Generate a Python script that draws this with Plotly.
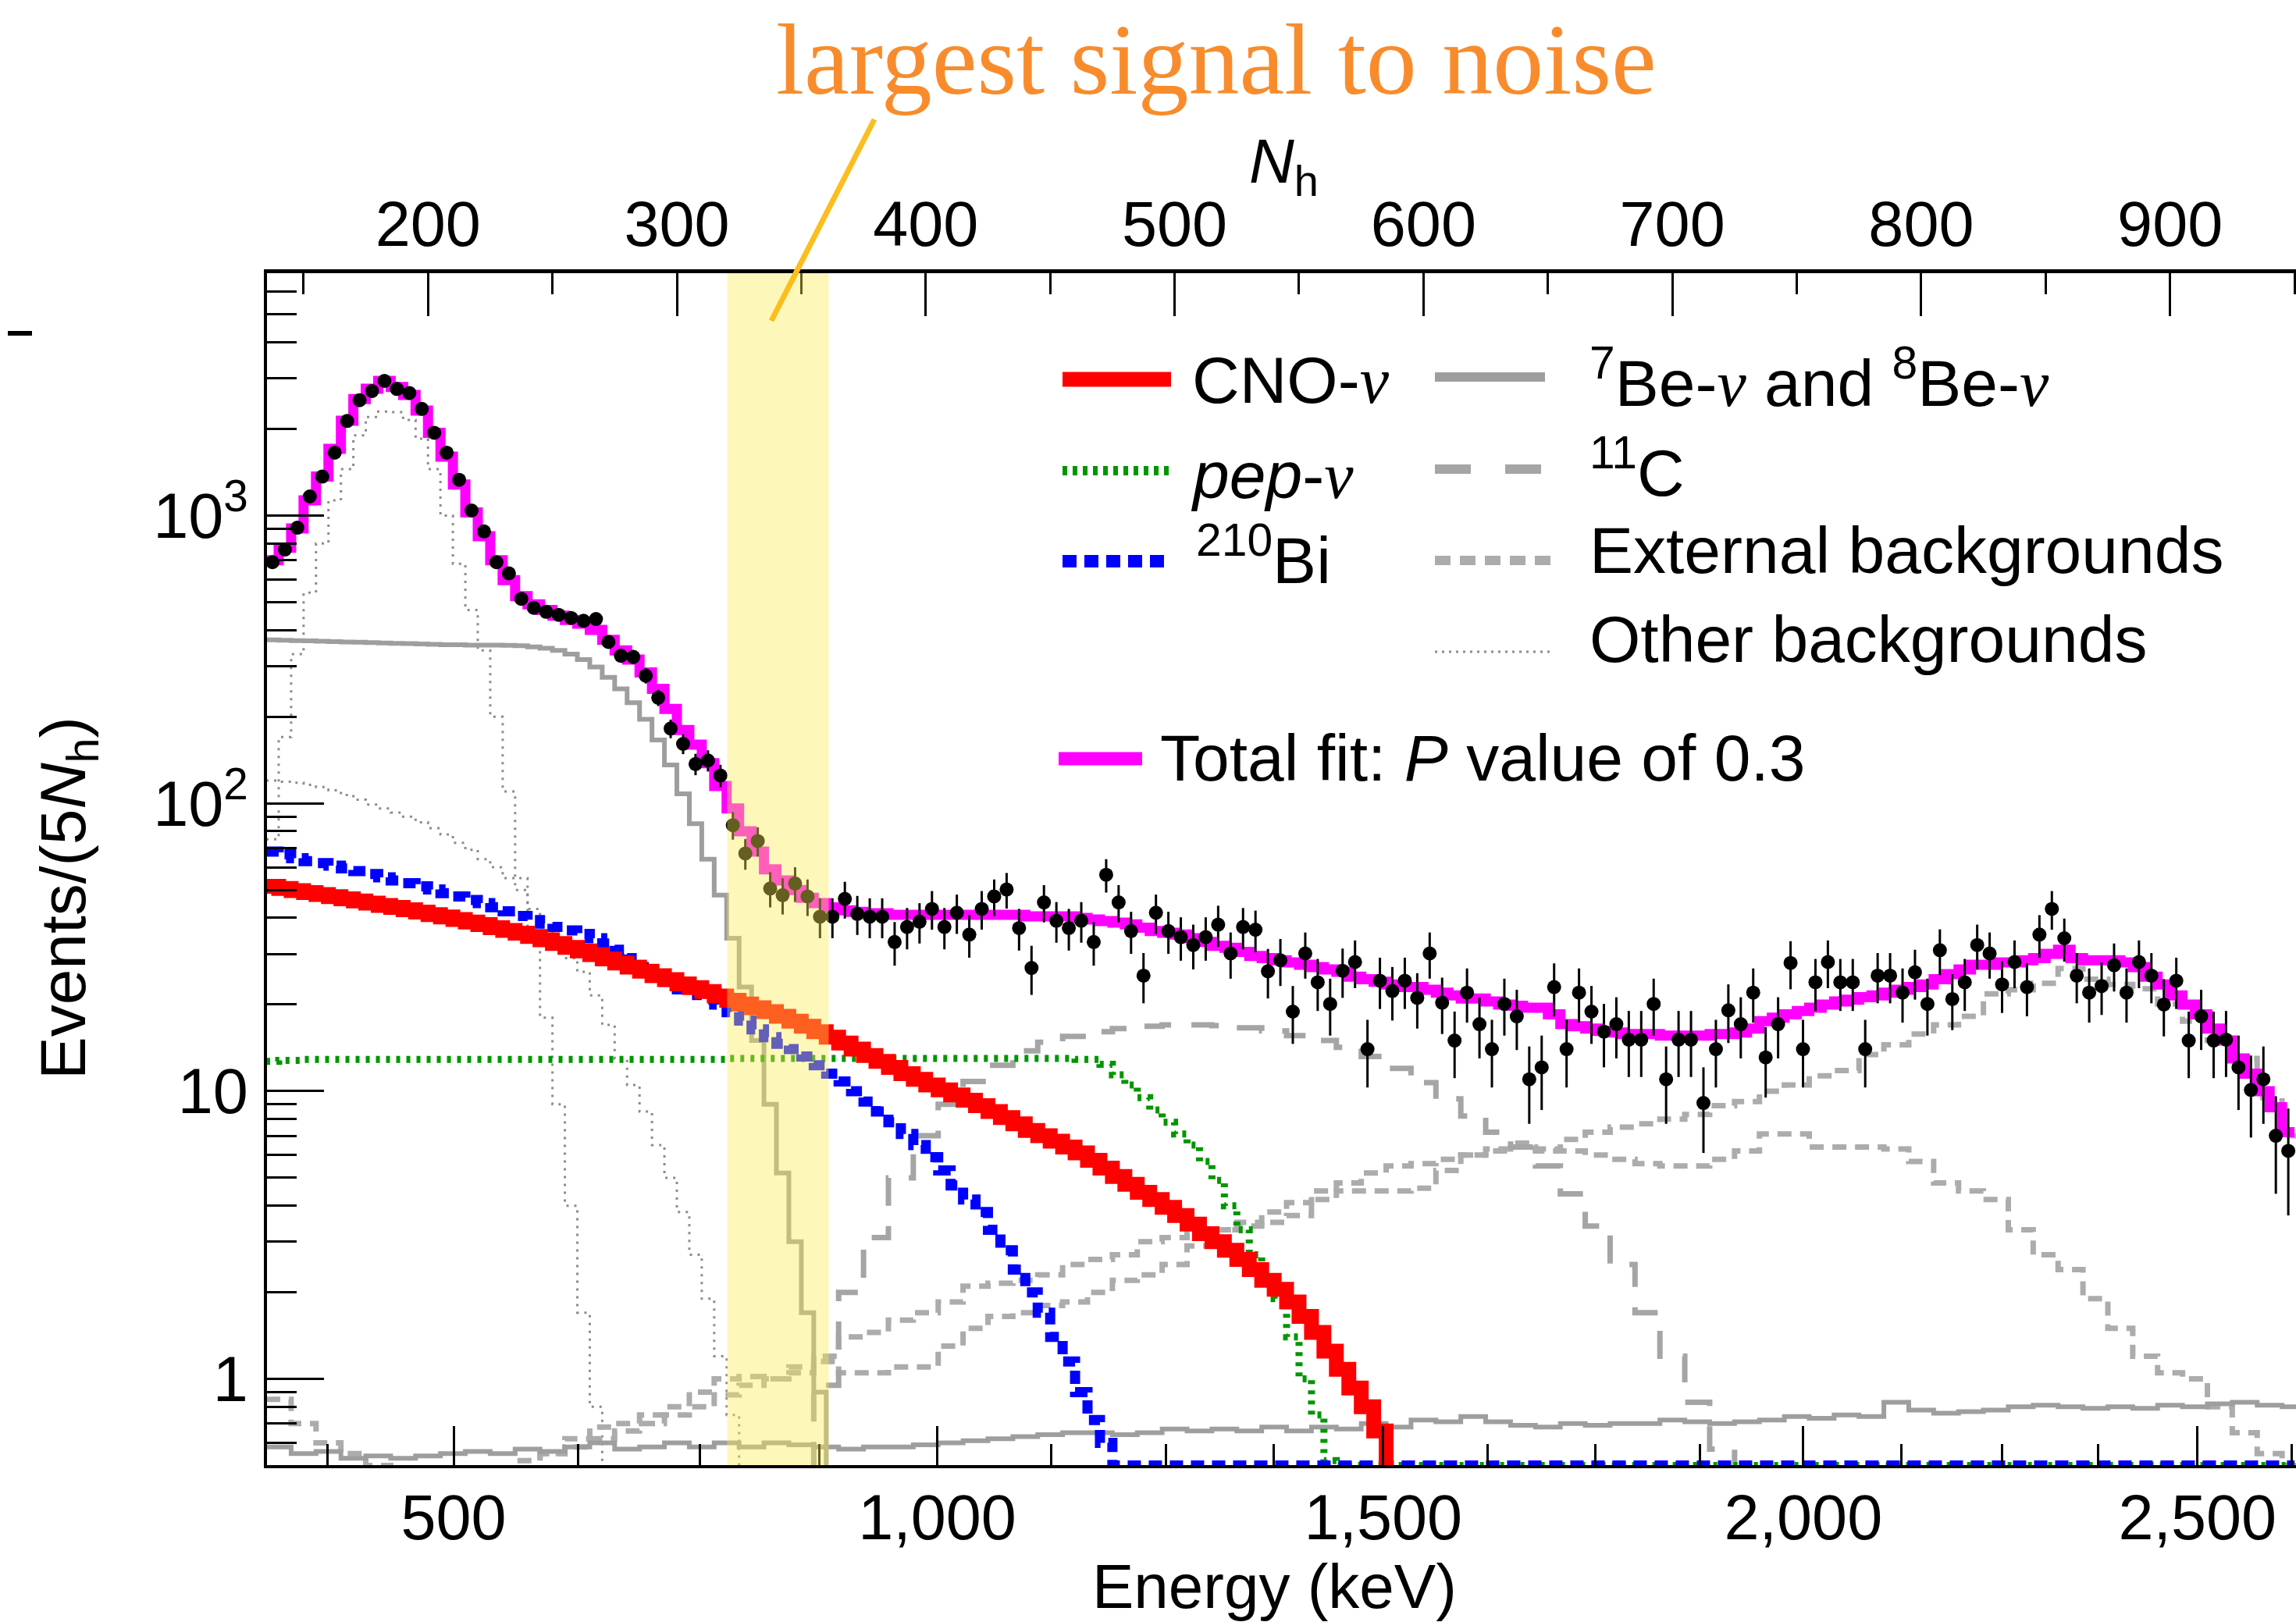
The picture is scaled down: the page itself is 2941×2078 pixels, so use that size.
import plotly.graph_objects as go

# ---------------- data ----------------
NH_START = 135.0   # left edge of the first histogram bin (in N_h)
BIN5 = 5.0
BIN10 = 10.0

# measured spectrum, events per 5 N_h (bin centres 137.5 ... 947.5)
data_counts = [
    689, 762, 908, 1166, 1367, 1655, 2133, 2518, 2710, 2938,
    2755, 2669, 2349, 1941, 1655, 1332, 1042, 881, 689, 630,
    514, 478, 463, 452, 441, 431, 437, 364, 326, 323,
    278, 233, 182, 161, 137, 141, 125, 84, 67, 74,
    50.6, 48, 52.7, 47.5, 40.4, 40.4, 46.6, 41.3, 40.4, 40.4,
    33, 37.2, 38.8, 43, 37.2, 41.7, 35, 43, 47.5, 50.2,
    36.9, 26.8, 45.3, 39.1, 36.9, 39.1, 33, 56.5, 45.3, 36,
    25.2, 41.7, 36, 34.3, 32.2, 34.3, 37.9, 30.1, 37.2, 36.4,
    26.1, 28.5, 18.9, 30.1, 23.9, 20.1, 26.2, 28.1, 14.0, 24.2,
    22.3, 24.2, 21.1, 30.1, 20.3, 15.0, 22.0, 17.1, 14.0, 20.1,
    18.2, 11.0, 12.1, 23.0, 14.0, 22.0, 18.9, 16.1, 17.1, 15.1,
    15.1, 20.1, 11.0, 15.1, 15.1, 9.1, 14.0, 19.1, 17.1, 22.0,
    13.1, 17.1, 27.9, 14.0, 23.9, 28.1, 23.9, 23.9, 14.0, 25.2,
    25.2, 22.0, 25.9, 20.1, 30.9, 20.9, 23.9, 32.2, 30.1, 23.5,
    28.1, 23.0, 35.0, 43.0, 34.0, 25.2, 22.0, 23.2, 27.4, 22.0,
    28.1, 25.2, 20.0, 24.2, 15.0, 18.2, 15.0, 15.1, 12.1, 10.1,
    11.0, 7.0, 6.2]

data_err = [
    26, 28, 30, 34, 37, 41, 46, 50, 52, 54,
    52, 52, 48, 44, 41, 36, 32, 30, 26, 25,
    23, 22, 22, 21, 21, 21, 21, 19, 18, 18,
    17, 15, 13.5, 12.7, 11.7, 11.9, 11.2, 9.2, 8.2, 8.6,
    7.1, 6.9, 7.3, 6.9, 6.4, 6.4, 6.8, 6.4, 6.4, 6.4,
    5.7, 6.1, 6.2, 6.6, 6.1, 6.5, 5.9, 6.6, 6.9, 7.1,
    6.1, 5.2, 6.7, 6.3, 6.1, 6.3, 5.7, 7.5, 6.7, 6.0,
    5.0, 6.5, 6.0, 5.9, 5.7, 5.9, 6.2, 5.5, 6.1, 6.0,
    5.1, 5.3, 4.3, 5.5, 4.9, 4.5, 5.1, 5.3, 3.7, 4.9,
    4.7, 4.9, 4.6, 5.5, 4.5, 3.9, 4.7, 4.1, 3.7, 4.5,
    4.3, 3.3, 3.5, 4.8, 3.7, 4.7, 4.3, 4.0, 4.1, 3.9,
    3.9, 4.5, 3.3, 3.9, 3.9, 3.0, 3.7, 4.4, 4.1, 4.7,
    3.6, 4.1, 5.3, 3.7, 4.9, 5.3, 4.9, 4.9, 3.7, 5.0,
    5.0, 4.7, 5.1, 4.5, 5.6, 4.6, 4.9, 5.7, 5.5, 4.8,
    5.3, 4.8, 5.9, 6.6, 5.8, 5.0, 4.7, 4.8, 5.2, 4.7,
    5.3, 5.0, 4.5, 4.9, 3.9, 4.3, 3.9, 3.9, 3.5, 3.2,
    3.3, 2.6, 2.5]

total_fit = [
    700, 773, 903, 1130, 1367, 1707, 2138, 2543, 2760, 2938,
    2800, 2624, 2317, 1941, 1604, 1282, 1026, 848, 700, 597,
    525, 492, 470, 449, 434, 421, 401, 370, 340, 316,
    285, 250, 213, 180, 160, 138, 115, 96, 80, 68,
    59, 54, 50, 47, 45, 43.5, 42.5, 42, 41.5, 41.5,
    41, 41, 41, 41, 41, 41, 41, 41, 41, 41,
    41, 40.5, 40.5, 40.5, 40.5, 40, 39.5, 39, 38.5, 38,
    37, 36, 35.5, 35, 34, 33, 32, 31.5, 30.5, 29.5,
    29, 28.5, 28, 27.5, 27, 26.5, 26, 25, 24.5, 24,
    23.5, 23, 23, 22.5, 22, 21.5, 21, 21, 20.5, 20,
    19.8, 19.5, 19.5, 18.5, 17.1, 16.8, 16.5, 16.2, 16, 15.8,
    15.8, 15.8, 15.6, 15.6, 15.6, 15.6, 15.8, 15.8, 16, 16.5,
    17.5, 18, 18.5, 19, 19.5, 20, 20.5, 20.8, 21.2, 21.5,
    22, 22.5, 23, 23.5, 24.5, 25.5, 26.5, 27.5, 27.5, 28,
    28, 28.5, 29, 30, 31, 29, 28.5, 28.5, 28.5, 28,
    27, 25, 23.5, 21.5, 20, 18.5, 16.5, 15, 13, 11.5,
    10, 8.8, 7.2]

cno = [
    51.5, 50.6, 49.8, 49.0, 48.2, 47.4, 46.6, 45.8, 45.0, 44.2,
    43.5, 42.7, 41.9, 41.1, 40.3, 39.5, 38.7, 37.9, 37.0, 36.2,
    35.4, 34.5, 33.6, 32.6, 31.6, 30.7, 29.8, 28.8, 27.9, 27.0,
    26.1, 25.2, 24.4, 23.6, 22.9, 22.2, 21.4, 20.7, 20.1, 19.5,
    18.9, 18.2, 17.5, 16.8, 16.1, 15.4, 14.7, 14.0, 13.3, 12.7,
    12.1, 11.5, 11.0, 10.5, 10.1, 9.7, 9.3, 8.9, 8.5, 8.1,
    7.7, 7.3, 7.0, 6.7, 6.4, 6.1, 5.75, 5.4, 5.05, 4.75,
    4.45, 4.2, 3.95, 3.7, 3.45, 3.2, 3.0, 2.8, 2.6, 2.4,
    2.2, 2.05, 1.85, 1.65, 1.45, 1.25, 1.08, 0.93, 0.8, 0.66,
    0.45]

pep = [
    12.7, 12.8, 12.8, 12.9, 12.9, 12.9, 12.9, 12.9, 12.9, 12.9,
    12.9, 12.9, 12.9, 12.9, 12.9, 12.9, 12.9, 12.9, 12.9, 12.9,
    12.9, 12.9, 12.9, 12.9, 12.9, 12.9, 12.9, 12.9, 12.9, 12.9,
    12.9, 12.9, 12.9, 12.9, 12.9, 12.9, 12.9, 13.0, 13.0, 13.0,
    13.0, 13.0, 13.0, 13.0, 13.0, 13.0, 13.0, 13.0, 13.0, 13.0,
    13.0, 13.0, 13.0, 13.0, 13.0, 13.0, 13.0, 13.0, 13.0, 13.0,
    13.0, 13.0, 13.0, 13.0, 13.0, 12.9, 12.9, 12.4, 11.4, 10.5,
    9.5, 8.6, 7.8, 7.1, 6.5, 5.7, 4.9, 4.0, 3.3, 2.7,
    2.3, 1.9, 1.4, 1.0, 0.75, 0.52, 0.5, 0.5, 0.5, 0.5,
    0.5, 0.5, 0.5, 0.5, 0.5, 0.5, 0.5, 0.5, 0.5, 0.5,
    0.5, 0.5, 0.5, 0.5, 0.5, 0.5, 0.5, 0.5, 0.5, 0.5,
    0.5, 0.5, 0.5, 0.5, 0.5, 0.5, 0.5, 0.5, 0.5, 0.5,
    0.5, 0.5, 0.5, 0.5, 0.5, 0.5, 0.5, 0.5, 0.5, 0.5,
    0.5, 0.5, 0.5, 0.5, 0.5, 0.5, 0.5, 0.5, 0.5, 0.5,
    0.5, 0.5, 0.5, 0.5, 0.5, 0.5, 0.5, 0.5, 0.5, 0.5,
    0.5, 0.5, 0.5, 0.5, 0.5, 0.5, 0.5, 0.5, 0.5, 0.5,
    0.5, 0.5, 0.5]

bi210 = [
    68, 66.5, 64.5, 63, 62, 60.8, 59.5, 58.2, 56.8, 55.3,
    54, 52.8, 51.5, 50.2, 48.8, 47.5, 46.2, 45, 43.6, 42.2,
    40.6, 39.3, 38.2, 37.2, 36.2, 35.2, 34.0, 32.6, 31.0, 29.0,
    27.0, 25.2, 24.0, 22.6, 21.6, 20.8, 20.0, 18.8, 17.6, 16.4,
    15.4, 14.6, 14.0, 13.2, 12.3, 11.5, 10.8, 10.0, 9.2, 8.5,
    7.8, 7.1, 6.5, 5.9, 5.3, 4.7, 4.2, 3.8, 3.3, 2.8,
    2.4, 2.0, 1.7, 1.4, 1.15, 0.9, 0.72, 0.6, 0.5, 0.5,
    0.5, 0.5, 0.5, 0.5, 0.5, 0.5, 0.5, 0.5, 0.5, 0.5,
    0.5, 0.5, 0.5, 0.5, 0.5, 0.5, 0.5, 0.5, 0.5, 0.5,
    0.5, 0.5, 0.5, 0.5, 0.5, 0.5, 0.5, 0.5, 0.5, 0.5,
    0.5, 0.5, 0.5, 0.5, 0.5, 0.5, 0.5, 0.5, 0.5, 0.5,
    0.5, 0.5, 0.5, 0.5, 0.5, 0.5, 0.5, 0.5, 0.5, 0.5,
    0.5, 0.5, 0.5, 0.5, 0.5, 0.5, 0.5, 0.5, 0.5, 0.5,
    0.5, 0.5, 0.5, 0.5, 0.5, 0.5, 0.5, 0.5, 0.5, 0.5,
    0.5, 0.5, 0.5, 0.5, 0.5, 0.5, 0.5, 0.5, 0.5, 0.5,
    0.5, 0.5, 0.5, 0.5, 0.5, 0.5, 0.5, 0.5, 0.5, 0.5,
    0.5, 0.5, 0.5]

be7 = [
    370, 369, 368, 367, 366, 365, 364, 363, 362, 361,
    360, 359, 358, 357, 356, 356, 355, 355, 355, 354,
    353, 350, 346, 340, 330, 316, 298, 274, 250, 224,
    196, 166, 136, 108, 85, 64, 48, 34, 23, 15,
    9, 5.2, 3.0, 1.7, 0.9, 0.4]

po210 = [
    75, 170, 330, 540, 800, 1130, 1450, 1900, 2200, 2300,
    2290, 2150, 1850, 1450, 1000, 680, 470, 340, 200, 110,
    55, 35, 18, 9, 4.0, 1.7, 0.8, 0.45]

other_broad = [
    120, 119, 118, 116, 114, 111, 107, 103, 99, 96,
    93, 90, 86, 82, 78, 73, 69, 64, 60, 55,
    50, 43, 37, 32, 29, 26, 21.5, 17, 13, 10.5,
    8.5, 6.5, 5.0, 3.8, 2.7, 1.9, 1.2, 0.75, 0.45]

# 10-N_h binned components
b8 = [
    0.58, 0.55, 0.56, 0.53, 0.54, 0.53, 0.54, 0.55, 0.56, 0.55,
    0.57, 0.56, 0.58, 0.6, 0.57, 0.58, 0.6, 0.58, 0.6, 0.58,
    0.6, 0.59, 0.58, 0.57, 0.58, 0.58, 0.59, 0.6, 0.61, 0.62,
    0.63, 0.64, 0.65, 0.65, 0.64, 0.65, 0.67, 0.66, 0.67, 0.66,
    0.68, 0.66, 0.68, 0.67, 0.7, 0.68, 0.72, 0.71, 0.74, 0.71,
    0.69, 0.68, 0.7, 0.69, 0.7, 0.7, 0.72, 0.71, 0.7, 0.71,
    0.72, 0.74, 0.73, 0.75, 0.74, 0.83, 0.78, 0.76, 0.77, 0.78,
    0.8, 0.81, 0.8, 0.79, 0.8, 0.79, 0.81, 0.8, 0.82, 0.83,
    0.81, 0.8]

C11_START = 345.0
c11 = [
    0.4, 0.95, 2.0, 3.1, 5.0, 7.0, 9.0, 10.8, 12.3, 13.8,
    14.8, 15.5, 16.1, 16.5, 16.8, 17.0, 17.0, 16.9, 16.6, 16.2,
    15.6, 15.0, 14.2, 13.2, 12.0, 10.7, 9.4, 8.2, 7.2, 6.4,
    5.5, 4.4, 3.4, 2.5, 1.7, 1.2, 0.83, 0.57, 0.4]

EXT_A_START = 235.0
ext_a = [
    0.45, 0.55, 0.58, 0.62, 0.66, 0.7, 0.75, 0.8, 0.88, 0.95,
    1.0, 1.1, 1.2, 1.4, 1.45, 1.6, 1.7, 1.85, 2.1, 2.15,
    2.2, 2.3, 2.5, 2.6, 2.7, 3.0, 3.1, 3.2, 3.3, 3.5,
    3.8, 4.1, 4.5, 4.8, 5.2, 5.5, 5.6, 5.8, 6.0, 6.3,
    6.6, 6.3, 6.2, 6.0, 5.8, 5.6, 5.5, 5.5, 5.8, 6.2,
    7.1, 7.1, 6.4, 6.4, 6.4, 6.3, 5.7, 4.8, 4.5, 4.2,
    3.3, 2.7, 2.4, 1.9, 1.5, 1.2, 1.05, 1.0, 0.8, 0.65,
    0.55, 0.5]

EXT_B_START = 225.0
ext_b = [
    0.45, 0.52, 0.55, 0.62, 0.68, 0.7, 0.75, 0.8, 0.9, 1.0,
    1.02, 1.0, 1.05, 1.15, 1.05, 1.05, 1.1, 1.1, 1.3, 1.5,
    1.65, 1.7, 1.8, 1.85, 2.0, 2.2, 2.3, 2.5, 2.9, 3.3,
    3.4, 3.5, 3.7, 4.2, 4.5, 4.5, 4.5, 4.6, 5.3, 6.0,
    6.2, 6.4, 6.2, 6.8, 7.2, 7.5, 7.7, 8.0, 8.3, 8.9,
    9.2, 10.0, 10.5, 11.3, 11.8, 13.4, 14.5, 15.8, 17.0, 18.2,
    21.8, 22.5, 23.7, 26.7, 24.5, 23.5, 22.7, 20.1, 17.5, 15.0,
    13.0, 9.5, 7.0]

ext_c = [0.85, 0.7, 0.6, 0.55, 0.5, 0.45]

# axis ticks
nh_major = [200, 300, 400, 500, 600, 700, 800, 900]
nh_minor = [150, 250, 350, 450, 550, 650, 750, 850, 950]
energy_labels = ["500", "1,000", "1,500", "2,000", "2,500"]
energy_major_nh = [210.3, 404.6, 583.8, 752.6, 911.0]
energy_minor_nh = [159.5, 260.3, 309.4, 357.1, 450.4, 496.4, 539.8,
                   625.8, 668.9, 711.0, 792.0, 832.6, 871.0, 949.0]
y_major = [1, 10, 100, 1000]
y_major_text = ["1", "10", "10<sup>2</sup>", "10<sup>3</sup>"]
y_minor = [0.6, 0.7, 0.8, 0.9, 2, 3, 4, 5, 6, 7, 8, 9,
           20, 30, 40, 50, 60, 70, 80, 90,
           200, 300, 400, 500, 600, 700, 800, 900,
           2000, 3000, 4000, 5000, 6000, 7000]

BAND_NH = (320.2, 361.0)   # "largest signal to noise" window

# ---------------- layout geometry (pixels) ----------------
W, H = 2941, 2078
PL, PR, PT, PB = 342, 2941, 350, 1877
X_RANGE = [135.3, 950.6]
Y_RANGE = [-0.2994, 3.8424]

SANS = "Liberation Sans, Arial, Helvetica, sans-serif"
SERIF = "Liberation Serif, Times New Roman, serif"


def fx(p):
    return (p - PL) / (PR - PL)


def fy(p):
    return (PB - p) / (PB - PT)


def steps(start, width, vals):
    xs = [start + width * i for i in range(len(vals) + 1)]
    ys = list(vals) + [vals[-1]]
    return xs, ys


GRAY_SOLID = "rgb(158,158,158)"
GRAY_11C = "rgb(165,165,165)"
GRAY_EXT = "rgb(172,172,172)"
GRAY_DOT = "rgb(140,140,140)"

fig = go.Figure()


def add_step(start, width, vals, color, lw, dash="solid"):
    xs, ys = steps(start, width, vals)
    fig.add_trace(go.Scatter(x=xs, y=ys, mode="lines", line_shape="hv",
                             line=dict(color=color, width=lw, dash=dash),
                             hoverinfo="skip", showlegend=False))


# other backgrounds (dotted)
add_step(NH_START, BIN5, po210, GRAY_DOT, 3, "3px,7px")
add_step(NH_START, BIN5, other_broad, GRAY_DOT, 3, "3px,7px")
# external backgrounds (short dashes)
add_step(NH_START, BIN10, ext_c, GRAY_EXT, 7, "18px,11px")
add_step(EXT_A_START, BIN10, ext_a, GRAY_EXT, 7, "18px,11px")
add_step(EXT_B_START, BIN10, ext_b, GRAY_EXT, 7, "18px,11px")
# 11C (long dashes)
add_step(C11_START, BIN10, c11, GRAY_11C, 7, "36px,26px")
# 8B and 7Be (solid gray)
add_step(NH_START, BIN10, b8, GRAY_SOLID, 6)
add_step(NH_START, BIN5, be7, GRAY_SOLID, 6)
# pep, Bi, CNO
add_step(NH_START, BIN5, pep, "rgb(0,150,0)", 9, "5px,8px")
add_step(NH_START, BIN5, bi210, "rgb(0,0,255)", 13, "17px,10px")
add_step(NH_START, BIN5, cno, "rgb(255,0,0)", 19)
# total fit
add_step(NH_START, BIN5, total_fit, "rgb(255,0,255)", 13)

# data
centres = [NH_START + BIN5 * (i + 0.5) for i in range(len(data_counts))]
fig.add_trace(go.Scatter(
    x=centres, y=data_counts, mode="markers",
    marker=dict(color="black", size=18, line=dict(width=0)),
    error_y=dict(type="data", array=data_err, symmetric=True,
                 color="black", thickness=3, width=0),
    hoverinfo="skip", showlegend=False))

# invisible trace to activate the top (N_h) axis
fig.add_trace(go.Scatter(x=[None], y=[None], xaxis="x2", yaxis="y",
                         mode="markers", showlegend=False, hoverinfo="skip"))

fig.update_layout(
    width=W, height=H, autosize=False,
    margin=dict(l=PL, r=W - PR, t=PT, b=H - PB, pad=0),
    paper_bgcolor="white", plot_bgcolor="white",
    showlegend=False,
    font=dict(family=SANS, size=80, color="black"),
    xaxis=dict(
        range=X_RANGE, showgrid=False, zeroline=False,
        showline=True, linecolor="black", linewidth=4,
        tickmode="array", tickvals=energy_major_nh, ticktext=energy_labels,
        ticks="inside", ticklen=50, tickwidth=3, tickcolor="black",
        minor=dict(tickmode="array", tickvals=energy_minor_nh, ticks="inside",
                   ticklen=27, tickwidth=3, tickcolor="black", showgrid=False),
        tickfont=dict(family=SANS, size=81, color="black"),
        ticklabelstandoff=-6,
    ),
    xaxis2=dict(
        overlaying="x", side="top", anchor="y",
        range=X_RANGE, showgrid=False, zeroline=False,
        showline=True, linecolor="black", linewidth=5,
        tickmode="array", tickvals=nh_major, ticktext=[str(v) for v in nh_major],
        ticks="inside", ticklen=55, tickwidth=3, tickcolor="black",
        minor=dict(tickmode="array", tickvals=nh_minor, ticks="inside",
                   ticklen=27, tickwidth=3, tickcolor="black", showgrid=False),
        tickfont=dict(family=SANS, size=81, color="black"),
        ticklabelstandoff=-2,
    ),
    yaxis=dict(
        type="log", range=Y_RANGE, showgrid=False, zeroline=False,
        showline=True, linecolor="black", linewidth=4,
        tickmode="array", tickvals=y_major, ticktext=y_major_text,
        ticks="inside", ticklen=73, tickwidth=3, tickcolor="black",
        minor=dict(tickmode="array", tickvals=y_minor, ticks="inside",
                   ticklen=38, tickwidth=3, tickcolor="black", showgrid=False),
        tickfont=dict(family=SANS, size=81, color="black"),
        ticklabelstandoff=4,
    ),
)

shapes = []
# highlighted window (semi-transparent, above the curves)
shapes.append(dict(type="rect", xref="x", yref="paper",
                   x0=BAND_NH[0], x1=BAND_NH[1], y0=0, y1=1,
                   fillcolor="rgba(250,238,80,0.40)", line=dict(width=0),
                   layer="above"))
# pointer line from the annotation
shapes.append(dict(type="line", xref="paper", yref="paper",
                   x0=fx(1120), y0=fy(153), x1=fx(988), y1=fy(411),
                   line=dict(color="rgb(251,190,30)", width=7)))
# small stray dash at the top left
shapes.append(dict(type="line", xref="paper", yref="paper",
                   x0=fx(10), y0=fy(427), x1=fx(41), y1=fy(427),
                   line=dict(color="black", width=6)))


# legend samples
def leg_line(x0, x1, y, color, width, dash="solid"):
    shapes.append(dict(type="line", xref="paper", yref="paper",
                       x0=fx(x0), x1=fx(x1), y0=fy(y), y1=fy(y),
                       line=dict(color=color, width=width, dash=dash)))


leg_line(1361, 1500, 486, "rgb(255,0,0)", 19)
leg_line(1361, 1500, 603, "rgb(0,150,0)", 12, "6px,7px")
leg_line(1361, 1500, 719, "rgb(0,0,255)", 16, "18px,10px")
leg_line(1838, 1979, 483, GRAY_SOLID, 12)
leg_line(1838, 1990, 601, GRAY_11C, 12, "46px,44px")
leg_line(1838, 1990, 718, GRAY_EXT, 12, "20px,12px")
leg_line(1838, 1990, 835, GRAY_DOT, 3, "3px,6px")
leg_line(1356, 1463, 972, "rgb(255,0,255)", 17)

fig.update_layout(shapes=shapes)

NU = "<span style='font-family:Liberation Serif'><i>ν</i></span>"

annotations = []


def ann(text, xp, yp, size=84, xanchor="left", family=SANS, color="black",
        angle=0):
    annotations.append(dict(text=text, xref="paper", yref="paper",
                            x=fx(xp), y=fy(yp), xanchor=xanchor,
                            yanchor="middle", showarrow=False,
                            textangle=angle,
                            font=dict(family=family, size=size, color=color)))


# legend labels
ann("CNO-" + NU, 1525, 487)
ann("<i>pep</i>-" + NU, 1523, 609)
ann("<sup>210</sup>Bi", 1530, 712)
ann("<sup>7</sup>Be-" + NU + " and <sup>8</sup>Be-" + NU, 2034, 485)
ann("<sup>11</sup>C", 2034, 600)
ann("External backgrounds", 2034, 705)
ann("Other backgrounds", 2034, 819)
ann("Total fit: <i>P</i> value of 0.3", 1484, 971)

# axis titles
ann("<i>N</i><sub>h</sub>", 1645, 212, size=80, xanchor="center")
ann("Energy (keV)", 1632, 2032, size=80, xanchor="center")
ann("Events/(5<i>N</i><sub>h</sub>)", 86, 1151, size=82, xanchor="center",
    angle=-90)

# headline annotation
ann("largest signal to noise", 1558, 76, size=130, xanchor="center",
    family=SERIF, color="rgb(248,140,45)")

fig.update_layout(annotations=annotations)

fig.write_html("out.html")
